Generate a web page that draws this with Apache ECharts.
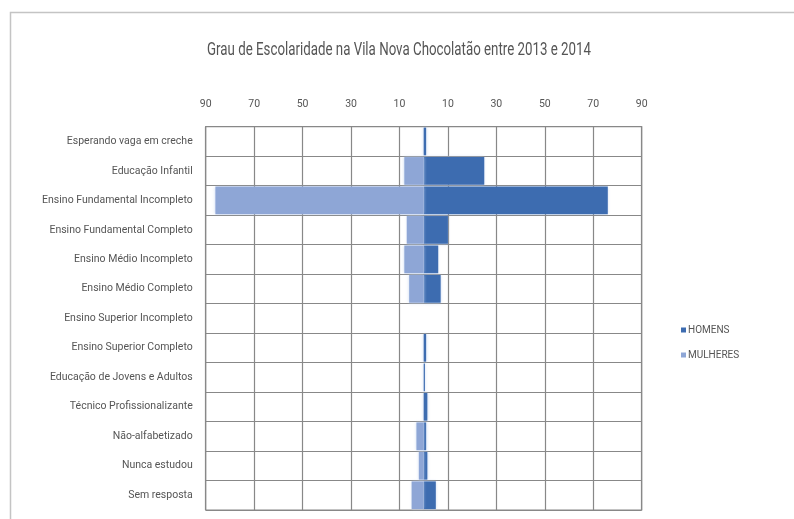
<!DOCTYPE html>
<html>
<head>
<meta charset="utf-8">
<script src="https://cdn.jsdelivr.net/npm/echarts@6/dist/echarts.min.js"></script>
<style>
  html, body { margin: 0; padding: 0; background: #fff; }
  #chart { width: 794px; height: 519px; }
</style>
</head>
<body>
<div id="chart"></div>
<script>
// Education levels, top to bottom
const categories = [
  'Esperando vaga em creche',
  'Educação Infantil',
  'Ensino Fundamental Incompleto',
  'Ensino Fundamental Completo',
  'Ensino Médio Incompleto',
  'Ensino Médio Completo',
  'Ensino Superior Incompleto',
  'Ensino Superior Completo',
  'Educação de Jovens e Adultos',
  'Técnico Profissionalizante',
  'Não-alfabetizado',
  'Nunca estudou',
  'Sem resposta'
];
const homens   = [1, 25, 76, 10, 6, 7, 0, 1, 0.5, 1.5, 1, 1.5, 5];
const mulheres = [0, 8, 86, 7, 8, 6, 0, 0, 0, 0, 3, 2, 5];
const axisMin = -90, axisMax = 90, axisStep = 20;
const titleText = 'Grau de Escolaridade na Vila Nova Chocolatão entre 2013 e 2014';

const font = "Roboto, 'Liberation Sans', sans-serif";
const textGray = '#555555';
const gridGray = '#888888';
const chart = echarts.init(document.getElementById('chart'), null, { renderer: 'canvas' });

chart.setOption({
  backgroundColor: '#ffffff',
  animation: false,
  graphic: [
    {
      // chart-area frame
      type: 'rect',
      shape: { x: 10.5, y: 12.5, width: 800, height: 520 },
      style: { fill: 'none', stroke: '#c4c4c4', lineWidth: 1.5 },
      silent: true
    },
    {
      // condensed title
      type: 'text',
      x: 207,
      y: 41,
      scaleX: 0.70,
      style: {
        x: 0, y: 0,
        text: titleText,
        font: '19px ' + font,
        fill: textGray,
        textVerticalAlign: 'top'
      },
      silent: true
    }
  ],
  legend: {
    orient: 'vertical',
    left: 676,
    top: 320,
    itemWidth: 5,
    itemHeight: 5,
    itemGap: 15,
    icon: 'rect',
    data: ['HOMENS', 'MULHERES'],
    textStyle: { fontFamily: font, fontSize: 10, color: textGray, padding: [0, 0, 0, -3] }
  },
  grid: {
    left: 205.7, right: 152.3, top: 126.7, bottom: 9,
    show: true, borderColor: gridGray, borderWidth: 1.2
  },
  xAxis: {
    type: 'value',
    position: 'top',
    min: axisMin,
    max: axisMax,
    interval: axisStep,
    axisLine: { show: false },
    axisTick: { show: false },
    axisLabel: {
      margin: 17,
      fontFamily: font, fontSize: 10.5, color: textGray,
      formatter: v => String(Math.abs(v))
    },
    splitLine: { show: true, lineStyle: { color: gridGray, width: 1.2 } }
  },
  yAxis: {
    type: 'category',
    inverse: true,
    data: categories,
    axisLine: { show: false },
    axisTick: { show: false },
    axisLabel: { margin: 13, fontFamily: font, fontSize: 10.5, color: textGray },
    splitLine: { show: true, lineStyle: { color: gridGray, width: 1.2 } }
  },
  series: [
    {
      name: 'HOMENS',
      type: 'bar',
      data: homens,
      barGap: '-100%',
      barCategoryGap: '6%',
      itemStyle: {
        color: '#3d6cb0',
        shadowColor: 'rgba(170,195,235,0.8)', shadowBlur: 3
      }
    },
    {
      name: 'MULHERES',
      type: 'bar',
      data: mulheres.map(v => -v),
      barGap: '-100%',
      barCategoryGap: '6%',
      itemStyle: {
        color: '#8ea6d6',
        shadowColor: 'rgba(190,210,240,0.8)', shadowBlur: 3
      }
    }
  ]
});
</script>
</body>
</html>
